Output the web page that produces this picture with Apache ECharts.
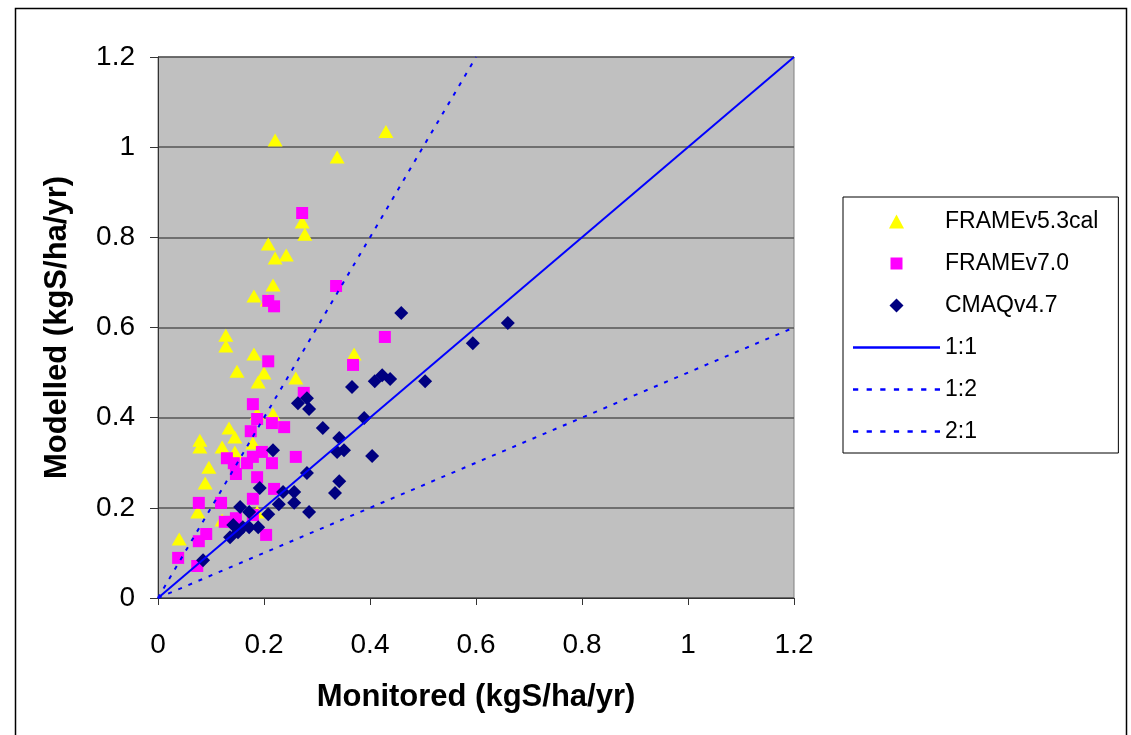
<!DOCTYPE html>
<html>
<head>
<meta charset="utf-8">
<title>Modelled vs Monitored</title>
<script src="https://cdn.jsdelivr.net/npm/echarts@6.0.0/dist/echarts.min.js"></script>
<style>
  html, body { margin: 0; padding: 0; background: #fff; }
  #chart { width: 1131px; height: 735px; }
</style>
</head>
<body>
<div id="chart"></div>
<script>
// [monitored, modelled] pairs
var frame53cal = [
  [0.221, 1.016], [0.430, 1.035], [0.338, 0.978], [0.272, 0.834], [0.277, 0.807],
  [0.208, 0.785], [0.221, 0.754], [0.242, 0.761], [0.217, 0.694], [0.181, 0.670],
  [0.206, 0.661], [0.128, 0.583], [0.128, 0.559], [0.181, 0.541], [0.370, 0.541],
  [0.149, 0.503], [0.200, 0.499], [0.189, 0.479], [0.260, 0.488], [0.217, 0.408],
  [0.187, 0.410], [0.134, 0.377], [0.145, 0.357], [0.079, 0.350], [0.079, 0.335],
  [0.121, 0.335], [0.179, 0.344], [0.145, 0.324], [0.096, 0.290], [0.089, 0.255],
  [0.075, 0.191], [0.121, 0.173], [0.187, 0.191], [0.040, 0.131]
];
var frame70 = [
  [0.272, 0.854], [0.208, 0.659], [0.219, 0.647], [0.336, 0.692], [0.428, 0.579],
  [0.368, 0.517], [0.208, 0.525], [0.275, 0.455], [0.179, 0.430], [0.187, 0.397],
  [0.215, 0.388], [0.238, 0.379], [0.175, 0.370], [0.130, 0.310], [0.179, 0.313],
  [0.196, 0.324], [0.143, 0.299], [0.168, 0.299], [0.215, 0.299], [0.260, 0.313],
  [0.147, 0.275], [0.187, 0.268], [0.219, 0.242], [0.179, 0.220], [0.077, 0.211],
  [0.119, 0.211], [0.179, 0.184], [0.126, 0.169], [0.147, 0.177], [0.091, 0.142],
  [0.077, 0.126], [0.204, 0.140], [0.038, 0.089], [0.074, 0.071]
];
var cmaq47 = [
  [0.459, 0.632], [0.660, 0.610], [0.594, 0.565], [0.504, 0.481], [0.423, 0.494],
  [0.409, 0.481], [0.438, 0.486], [0.366, 0.468], [0.264, 0.432], [0.281, 0.443],
  [0.285, 0.419], [0.389, 0.399], [0.311, 0.377], [0.342, 0.355], [0.351, 0.328],
  [0.338, 0.324], [0.404, 0.315], [0.217, 0.328], [0.281, 0.277], [0.192, 0.244],
  [0.342, 0.259], [0.334, 0.233], [0.236, 0.235], [0.257, 0.235], [0.228, 0.208],
  [0.257, 0.211], [0.285, 0.191], [0.155, 0.202], [0.172, 0.191], [0.208, 0.186],
  [0.142, 0.162], [0.160, 0.157], [0.189, 0.157], [0.172, 0.157], [0.136, 0.135],
  [0.151, 0.146], [0.085, 0.084]
];
// reference lines
var line11 = [[0, 0], [1.2, 1.2]];
var line12 = [[0, 0], [0.6, 1.2]];
var line21 = [[0, 0], [1.2, 0.6]];

var font = '"Liberation Sans", Arial, sans-serif';

// legend icons (paths keep their aspect, so markers don't get stretched)
var iconTriangle = 'path://M7,0L14,13L0,13Z';
var iconSquare = 'path://M0,0M14,14M1,1H13V13H1Z';
var iconDiamond = 'path://M7,0L14,7L7,14L0,7Z';
var iconSolid = 'path://M0,0H87V2.5H0Z';
var iconDotted = 'path://M0,0h5v2.5h-5z M13,0h5v2.5h-5z M26,0h5v2.5h-5z M39,0h5v2.5h-5z' +
  'M52,0h5v2.5h-5z M65,0h5v2.5h-5z M78,0h5v2.5h-5z';

var chart = echarts.init(document.getElementById('chart'));

var option = {
  backgroundColor: '#fff',
  animation: false,
  graphic: [
    {
      type: 'rect',
      shape: { x: 15.5, y: 8.5, width: 1111, height: 740 },
      style: { fill: 'none', stroke: '#000', lineWidth: 1.5 },
      silent: true
    }
  ],
  grid: {
    left: 158, right: 337, top: 57, bottom: 137,
    show: true,
    backgroundColor: '#C0C0C0',
    borderColor: '#808080',
    borderWidth: 1
  },
  legend: {
    orient: 'vertical',
    left: 843, top: 197,
    padding: [13, 20, 10, 10],
    itemWidth: 87,
    itemHeight: 14,
    itemGap: 19,
    backgroundColor: '#fff',
    borderColor: '#000',
    borderWidth: 1,
    textStyle: { fontFamily: font, fontSize: 23, color: '#000' },
    data: [
      { name: 'FRAMEv5.3cal', icon: iconTriangle },
      { name: 'FRAMEv7.0', icon: iconSquare },
      { name: 'CMAQv4.7', icon: iconDiamond },
      { name: '1:1', icon: iconSolid },
      { name: '1:2', icon: iconDotted },
      { name: '2:1', icon: iconDotted }
    ]
  },
  xAxis: {
    type: 'value',
    min: 0, max: 1.2, interval: 0.2,
    name: 'Monitored (kgS/ha/yr)',
    nameLocation: 'middle',
    nameGap: 84,
    nameTextStyle: { fontFamily: font, fontSize: 31, fontWeight: 'bold', color: '#000' },
    axisLine: { lineStyle: { color: '#333', width: 1 } },
    axisTick: { show: true, length: 7, lineStyle: { color: '#333' } },
    axisLabel: { fontFamily: font, fontSize: 28, color: '#000', margin: 33 },
    splitLine: { show: false }
  },
  yAxis: {
    type: 'value',
    min: 0, max: 1.2, interval: 0.2,
    name: 'Modelled (kgS/ha/yr)',
    nameLocation: 'middle',
    nameGap: 85,
    nameTextStyle: { fontFamily: font, fontSize: 31, fontWeight: 'bold', color: '#000' },
    axisLine: { show: true, lineStyle: { color: '#333', width: 1 } },
    axisTick: { show: true, length: 8, lineStyle: { color: '#333' } },
    axisLabel: { fontFamily: font, fontSize: 28, color: '#000', margin: 23 },
    splitLine: { show: true, lineStyle: { color: '#555', width: 1.5 } }
  },
  series: [
    {
      name: 'FRAMEv5.3cal',
      type: 'scatter',
      symbol: 'triangle',
      symbolSize: [15, 13],
      itemStyle: { color: '#FFFF00', opacity: 1 },
      data: frame53cal
    },
    {
      name: 'FRAMEv7.0',
      type: 'scatter',
      symbol: 'rect',
      symbolSize: 12,
      itemStyle: { color: '#FF00FF', opacity: 1 },
      data: frame70
    },
    {
      name: 'CMAQv4.7',
      type: 'scatter',
      symbol: 'diamond',
      symbolSize: 14,
      itemStyle: { color: '#000080', opacity: 1 },
      data: cmaq47
    },
    {
      name: '1:1',
      type: 'line',
      symbol: 'none',
      color: '#0000FF',
      lineStyle: { color: '#0000FF', width: 2 },
      data: line11
    },
    {
      name: '1:2',
      type: 'line',
      symbol: 'none',
      color: '#0000FF',
      lineStyle: { color: '#0000FF', width: 2, type: [4, 7] },
      data: line12
    },
    {
      name: '2:1',
      type: 'line',
      symbol: 'none',
      color: '#0000FF',
      lineStyle: { color: '#0000FF', width: 2, type: [4, 7] },
      data: line21
    }
  ]
};

chart.setOption(option);
</script>
</body>
</html>
